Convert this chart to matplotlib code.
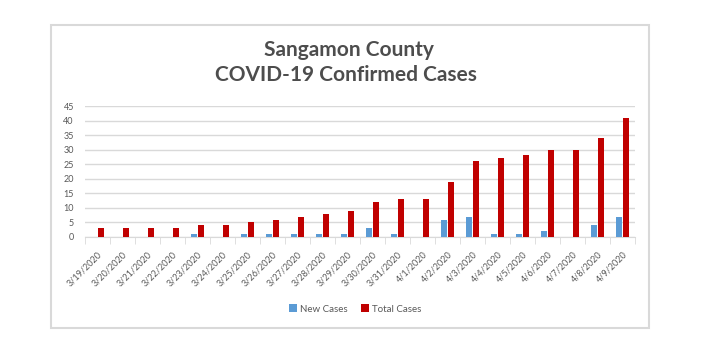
import matplotlib
matplotlib.use("Agg")
import matplotlib.pyplot as plt
from matplotlib.patches import Rectangle
import numpy as np

dates = ["3/19/2020", "3/20/2020", "3/21/2020", "3/22/2020", "3/23/2020", "3/24/2020",
         "3/25/2020", "3/26/2020", "3/27/2020", "3/28/2020", "3/29/2020", "3/30/2020",
         "3/31/2020", "4/1/2020", "4/2/2020", "4/3/2020", "4/4/2020", "4/5/2020",
         "4/6/2020", "4/7/2020", "4/8/2020", "4/9/2020"]
new_cases = [0, 0, 0, 0, 1, 0, 1, 1, 1, 1, 1, 3, 1, 0, 6, 7, 1, 1, 2, 0, 4, 7]
total_cases = [3, 3, 3, 3, 4, 4, 5, 6, 7, 8, 9, 12, 13, 13, 19, 26, 27, 28, 30, 30, 34, 41]
y_ticks = list(range(0, 50, 5))

plt.rcParams["font.family"] = ["Lato", "DejaVu Sans"]
text_gray = "#595959"

W, H = 702, 350
fig = plt.figure(figsize=(W / 100, H / 100), dpi=100)

# chart frame
fig.patches.append(Rectangle((51 / W, 1 - 328 / H), 598 / W, 303 / H, transform=fig.transFigure,
                             fill=False, edgecolor="#d9d9d9", linewidth=1.5))

ax = fig.add_axes([85 / W, 1 - 237 / H, 550 / W, 131 / H])
x = np.arange(len(dates))
ax.bar(x - 0.14, new_cases, width=0.23, color="#5b9bd5", label="New Cases", zorder=3)
ax.bar(x + 0.14, total_cases, width=0.23, color="#c00000", label="Total Cases", zorder=3)

ax.set_xlim(-0.5, len(dates) - 0.5)
ax.set_ylim(0, 45)
ax.set_yticks(y_ticks)
ax.yaxis.grid(True, color="#d9d9d9", linewidth=1, zorder=0)
ax.tick_params(axis="y", length=0, labelsize=6.5, labelcolor=text_gray, pad=8)

ax.set_xticks(x)
ax.set_xticklabels(dates, rotation=45, ha="right", rotation_mode="anchor")
ax.tick_params(axis="x", which="major", length=0, labelsize=6.5, labelcolor=text_gray, pad=9)
ax.set_xticks(np.arange(-0.5, len(dates), 1), minor=True)
ax.tick_params(axis="x", which="minor", length=5, color="#d9d9d9", direction="out")

for s in ["top", "right", "left"]:
    ax.spines[s].set_visible(False)
ax.spines["bottom"].set_color("#d9d9d9")

fig.text(349 / W, 1 - 50 / H, "Sangamon County", ha="center", va="center",
         fontsize=15, fontweight="bold", color="#4d4d4d")
fig.text(346 / W, 1 - 75 / H, "COVID-19 Confirmed Cases", ha="center", va="center",
         fontsize=15, fontweight="bold", color="#4d4d4d")

fig.legend(loc="center", bbox_to_anchor=(355 / W, 1 - 309 / H), ncol=2, frameon=False,
           fontsize=7, labelcolor=text_gray, handlelength=0.8, handleheight=0.8,
           handletextpad=0.3, columnspacing=1.4)

fig.savefig("out.png", dpi=100, facecolor="white")
